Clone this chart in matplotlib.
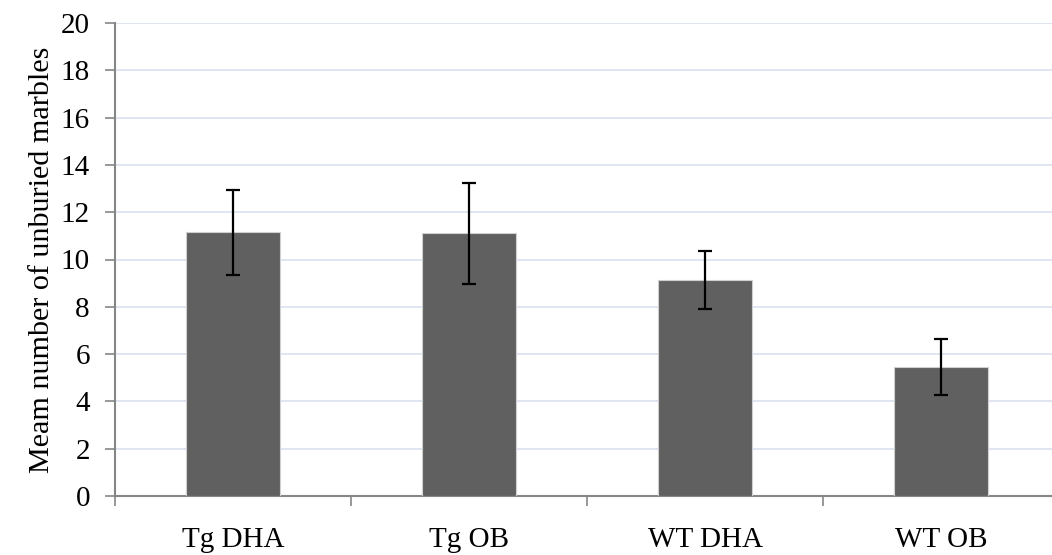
import matplotlib
matplotlib.use("Agg")
import matplotlib.pyplot as plt
import numpy as np

categories = ["Tg DHA", "Tg OB", "WT DHA", "WT OB"]
means = [11.15, 11.1, 9.13, 5.45]
errors = [1.8, 2.13, 1.22, 1.17]
yticks = [0, 2, 4, 6, 8, 10, 12, 14, 16, 18, 20]

plt.rcParams['font.family'] = ['Liberation Serif', 'DejaVu Serif']

fig = plt.figure(figsize=(10.52, 5.55), dpi=100)
ax = fig.add_axes([115 / 1052, 1 - 496 / 555, 944 / 1052, (496 - 23) / 555])

x = np.arange(len(categories))
ax.bar(x, means, width=0.4, color="#606060", edgecolor="#d0d0d0", linewidth=0.8, zorder=3)
ax.errorbar(x, means, yerr=errors, fmt="none", ecolor="black", elinewidth=1.6,
            capsize=5, capthick=1.6, zorder=4)

ax.set_xlim(-0.5, len(categories) - 0.5)
ax.set_ylim(0, 20)
ax.set_yticks(yticks)
ax.set_yticklabels([str(t) for t in yticks], fontsize=21)
ax.yaxis.grid(True, color="#d9e2ef", linewidth=1.2, zorder=0)
ax.set_axisbelow(True)

ax.set_xticks(x)
ax.set_xticklabels(categories, fontsize=21)
ax.tick_params(axis='x', length=0, pad=22)
ax.set_xticks(np.arange(-0.5, len(categories)), minor=True)
ax.tick_params(axis='x', which='minor', length=7, width=1.2, color="#868686", direction='out')
ax.tick_params(axis='y', length=7, width=1.2, color="#868686", direction='out', pad=11)

for s in ["top", "right"]:
    ax.spines[s].set_visible(False)
for s in ["left", "bottom"]:
    ax.spines[s].set_color("#868686")
    ax.spines[s].set_linewidth(1.5)

ax.set_ylabel("Meam number of unburied marbles", fontsize=21.7, labelpad=4)

fig.savefig("out.png", dpi=100)
